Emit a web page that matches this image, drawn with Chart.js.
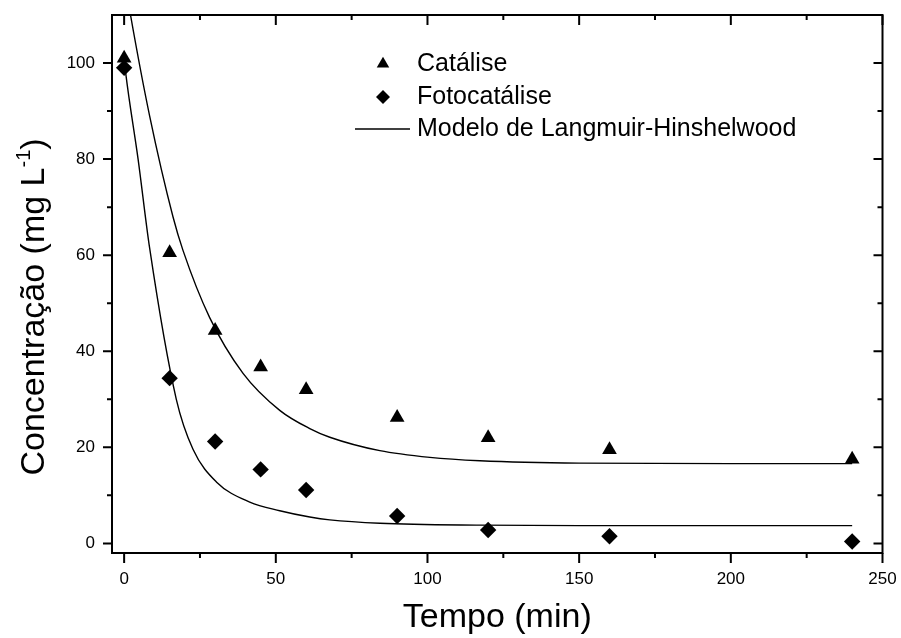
<!DOCTYPE html>
<html>
<head>
<meta charset="utf-8">
<script src="https://cdn.jsdelivr.net/npm/chart.js@4.4.1/dist/chart.umd.min.js"></script>
<style>
  html, body { margin: 0; padding: 0; background: #fff; }
  canvas { display: block; }
</style>
</head>
<body>
<canvas id="cinetica" width="901" height="638"></canvas>
<script>
// pontos experimentais (min, mg/L)
const tempo = [0, 15, 30, 45, 60, 90, 120, 160, 240];
const catalise = [101, 60.5, 44.3, 36.7, 32.0, 26.2, 22.0, 19.5, 17.5];
const fotocatalise = [99, 34.4, 21.2, 15.4, 11.1, 5.7, 2.8, 1.5, 0.4];

// curvas do modelo L-H
const modeloCatT = [0, 2.1, 8.4, 16.1, 19.4, 28.2, 39.2, 51.3, 61.2, 67.8, 84.3, 100.8, 117.3, 150, 200, 240];
const modeloCatC = [118, 110, 89, 68, 61, 47, 35.4, 27.7, 23.9, 22.1, 19.3, 17.9, 17.2, 16.7, 16.6, 16.6];
const modeloFotoT = [0, 0.5, 4.6, 8.4, 17.2, 22.7, 30.4, 41.4, 51.3, 61.2, 67.8, 84.3, 117.3, 150, 240];
const modeloFotoC = [101, 98, 80, 61.5, 30, 19.6, 12.8, 8.6, 6.8, 5.5, 4.9, 4.2, 3.8, 3.7, 3.7];

// eixos
const xTicks = [0, 50, 100, 150, 200, 250];
const xMinor = [25, 75, 125, 175, 225];
const yTicks = [0, 20, 40, 60, 80, 100];
const yMinor = [10, 30, 50, 70, 90];

const pts = (xs, ys) => xs.map((x, i) => ({ x: x, y: ys[i] }));
const FONT = '"Liberation Sans", Arial, sans-serif';

// moldura com ticks (fora em baixo/esquerda, dentro em cima/direita)
const frame = {
    id: 'frame',
    afterDraw(chart) {
        const { ctx, chartArea: a } = chart;
        const x = chart.scales.x, y = chart.scales.y;
        ctx.save();
        ctx.strokeStyle = '#000';
        ctx.lineWidth = 2;
        ctx.strokeRect(a.left, a.top, a.right - a.left, a.bottom - a.top);
        ctx.beginPath();
        const xt = (v, len) => {
            const p = x.getPixelForValue(v);
            ctx.moveTo(p, a.bottom); ctx.lineTo(p, a.bottom + len);
            ctx.moveTo(p, a.top); ctx.lineTo(p, a.top + len);
        };
        const yt = (v, len) => {
            const p = y.getPixelForValue(v);
            ctx.moveTo(a.left, p); ctx.lineTo(a.left - len, p);
            ctx.moveTo(a.right, p); ctx.lineTo(a.right - len, p);
        };
        xTicks.forEach(v => xt(v, 10));
        xMinor.forEach(v => xt(v, 5));
        yTicks.forEach(v => yt(v, 9));
        yMinor.forEach(v => yt(v, 5));
        ctx.stroke();
        ctx.restore();
    }
};

// titulo do eixo y com expoente
const yTitle = {
    id: 'yTitle',
    afterDraw(chart) {
        const ctx = chart.ctx;
        const main = 'Concentração (mg L', sup = '-1', close = ')';
        ctx.save();
        ctx.fillStyle = '#000';
        ctx.translate(44, 307);
        ctx.rotate(-Math.PI / 2);
        ctx.textBaseline = 'alphabetic';
        ctx.font = '34px ' + FONT;
        const w1 = ctx.measureText(main).width;
        const w3 = ctx.measureText(close).width;
        ctx.font = '20px ' + FONT;
        const w2 = ctx.measureText(sup).width;
        let cx = -(w1 + w2 + w3) / 2;
        ctx.font = '34px ' + FONT;
        ctx.fillText(main, cx, 0);
        cx += w1;
        ctx.font = '20px ' + FONT;
        ctx.fillText(sup, cx, -14);
        cx += w2;
        ctx.font = '34px ' + FONT;
        ctx.fillText(close, cx, 0);
        ctx.restore();
    }
};

// legenda dentro da area
const legenda = {
    id: 'legenda',
    afterDraw(chart) {
        const ctx = chart.ctx;
        const rows = [64, 97, 129];
        const seen = [];
        const items = chart.data.datasets.filter(d => {
            if (seen.includes(d.label)) return false;
            seen.push(d.label);
            return true;
        });
        ctx.save();
        ctx.font = '25px ' + FONT;
        ctx.textBaseline = 'middle';
        ctx.fillStyle = '#000';
        ctx.strokeStyle = '#000';
        items.forEach((d, i) => {
            const yy = rows[i];
            if (d.showLine) {
                ctx.lineWidth = 1.4;
                ctx.beginPath();
                ctx.moveTo(355, yy); ctx.lineTo(410, yy);
                ctx.stroke();
            } else {
                Chart.helpers.drawPoint(ctx, {
                    pointStyle: d.pointStyle, radius: d.pointRadius * 0.85, rotation: 0, borderWidth: 0
                }, 383, yy);
            }
            ctx.fillText(d.label, 417, yy);
        });
        ctx.restore();
    }
};

const noPad = s => {
    s.paddingLeft = 0; s.paddingRight = 0; s.paddingTop = 0; s.paddingBottom = 0;
};

const ctx = document.getElementById('cinetica').getContext('2d');
const chart = new Chart(ctx, {
    type: 'scatter',
    data: {
        datasets: [{
            label: 'Catálise',
            data: pts(tempo, catalise),
            pointStyle: 'triangle',
            pointRadius: 8.5,
            pointHoverRadius: 8.5,
            backgroundColor: '#000',
            borderColor: '#000',
            borderWidth: 0
        }, {
            label: 'Fotocatálise',
            data: pts(tempo, fotocatalise),
            pointStyle: 'rectRot',
            pointRadius: 8.2,
            pointHoverRadius: 8.2,
            backgroundColor: '#000',
            borderColor: '#000',
            borderWidth: 0
        }, {
            label: 'Modelo de Langmuir-Hinshelwood',
            data: pts(modeloCatT, modeloCatC),
            showLine: true,
            pointRadius: 0,
            borderColor: '#000',
            borderWidth: 1.4,
            cubicInterpolationMode: 'monotone'
        }, {
            label: 'Modelo de Langmuir-Hinshelwood',
            data: pts(modeloFotoT, modeloFotoC),
            showLine: true,
            pointRadius: 0,
            borderColor: '#000',
            borderWidth: 1.4,
            cubicInterpolationMode: 'monotone'
        }]
    },
    options: {
        responsive: false,
        animation: false,
        layout: { padding: { left: 0, top: 15, right: 18.5, bottom: 0 } },
        plugins: { legend: { display: false }, tooltip: { enabled: false } },
        scales: {
            x: {
                type: 'linear',
                min: -4,
                max: 250,
                afterFit: s => { s.height = 85; noPad(s); },
                afterBuildTicks: s => { s.ticks = xTicks.map(v => ({ value: v })); },
                grid: { display: false, drawTicks: false },
                border: { display: false },
                ticks: { color: '#000', padding: 16, maxRotation: 0, font: { family: FONT, size: 17 } },
                title: {
                    display: true,
                    text: 'Tempo (min)',
                    color: '#000',
                    font: { family: FONT, size: 34, lineHeight: 1 },
                    padding: { top: 0, bottom: 3 }
                }
            },
            y: {
                type: 'linear',
                min: -2,
                max: 110,
                afterFit: s => { s.width = 112; noPad(s); },
                afterBuildTicks: s => { s.ticks = yTicks.map(v => ({ value: v })); },
                grid: { display: false, drawTicks: false },
                border: { display: false },
                ticks: { color: '#000', padding: 17, font: { family: FONT, size: 17 } }
            }
        }
    },
    plugins: [frame, yTitle, legenda]
});
</script>
</body>
</html>
